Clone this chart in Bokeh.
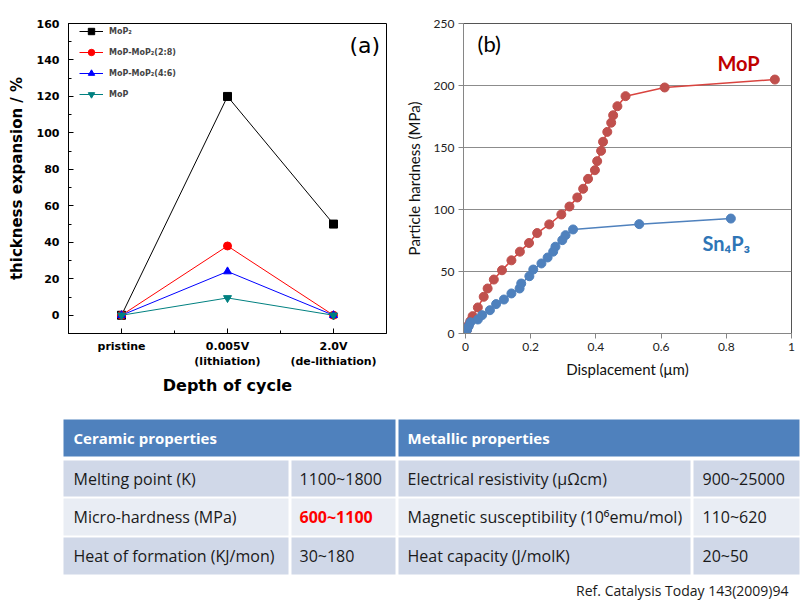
from bokeh.plotting import figure
from bokeh.models import Range1d, Legend, LegendItem, FixedTicker, Label
from bokeh.layouts import column, row
from bokeh.embed import file_html
from bokeh.resources import INLINE
from bokeh.core.properties import value

# ---------------- data: panel (a) ----------------
cycle_pos = [0, 1, 2]
cycle_labels = ["pristine", "0.005V\n(lithiation)", "2.0V\n(de-lithiation)"]
mop2_exp = [0, 120, 50]
mix28_exp = [0, 38, 0]
mix46_exp = [0, 24, 0]
mop_exp = [0, 9.5, 0]
series_names = ["MoP\u2082", "MoP-MoP\u2082(2:8)", "MoP-MoP\u2082(4:6)", "MoP"]

# ---------------- data: panel (b) ----------------
mop_disp = [0, 0.005, 0.01, 0.015, 0.022, 0.038, 0.056, 0.068, 0.087, 0.112, 0.141, 0.167,
            0.195, 0.22, 0.257, 0.294, 0.319, 0.343, 0.361, 0.376, 0.397, 0.404, 0.416,
            0.422, 0.435, 0.447, 0.453, 0.466, 0.491, 0.611, 0.949]
mop_hard = [0, 3, 7, 10, 14, 21, 29.6, 36.3, 43.5, 51, 59, 66,
            73, 81, 88, 96, 102.4, 109.7, 116.7, 124.7, 131.7, 139, 147.3,
            154.6, 162.6, 170, 176, 183.3, 191.4, 198.4, 204.8]
sn_disp = [0, 0.005, 0.01, 0.015, 0.038, 0.051, 0.075, 0.094, 0.118, 0.141, 0.166, 0.171,
           0.196, 0.208, 0.233, 0.252, 0.269, 0.276, 0.297, 0.307, 0.330, 0.533, 0.814]
sn_hard = [0, 3, 6, 9, 11.3, 14.8, 18.8, 23.7, 27.4, 32.3, 36.3, 40.3,
           46.2, 51.6, 56.5, 61.3, 66, 70, 75.3, 79.3, 83.9, 88.2, 92.7]

# ---------------- data: table ----------------
header_titles = ["Ceramic properties", "Metallic properties"]
ceramic_props = ["Melting point (K)", "Micro-hardness (MPa)", "Heat of formation (KJ/mon)"]
ceramic_vals = ["1100~1800", "600~1100", "30~180"]
metallic_props = ["Electrical resistivity (\u03bc\u03a9cm)",
                  "Magnetic susceptibility (10\u2076emu/mol)",
                  "Heat capacity (J/molK)"]
metallic_vals = ["900~25000", "110~620", "20~50"]
reference = "Ref. Catalysis Today 143(2009)94"

# ======================= panel (a) =======================
FA = "DejaVu Sans"
pa = figure(width=400, height=400, x_range=Range1d(-0.5, 2.5), y_range=Range1d(-10, 160),
            output_backend="svg", toolbar_location=None,
            min_border_left=68, min_border_right=14, min_border_top=23, min_border_bottom=64)
pa.xgrid.visible = False
pa.ygrid.visible = False
pa.outline_line_color = "black"
pa.outline_line_alpha = 1.0
pa.background_fill_color = "white"

pa.xaxis.ticker = FixedTicker(ticks=cycle_pos, minor_ticks=[0.5, 1.5])
pa.xaxis.major_label_overrides = {p: l for p, l in zip(cycle_pos, cycle_labels)}
pa.yaxis.ticker = FixedTicker(ticks=list(range(0, 161, 20)), minor_ticks=list(range(-10, 161, 10)))
for ax in (pa.xaxis[0], pa.yaxis[0]):
    ax.axis_line_color = "black"
    ax.major_tick_line_color = "black"
    ax.minor_tick_line_color = "black"
    ax.major_tick_in = 5
    ax.major_tick_out = 0
    ax.minor_tick_in = 3
    ax.minor_tick_out = 0
    ax.major_label_text_font = FA
    ax.major_label_text_font_style = "bold"
    ax.major_label_text_font_size = "11px"
    ax.major_label_text_color = "black"
    ax.axis_label_text_font = FA
    ax.axis_label_text_font_style = "bold"
    ax.axis_label_text_color = "black"
pa.xaxis.major_label_standoff = 6
pa.yaxis.major_label_standoff = 9
pa.xaxis.axis_label = "Depth of cycle"
pa.xaxis.axis_label_text_font_size = "16px"
pa.xaxis.axis_label_standoff = 5
pa.yaxis.axis_label = "thickness expansion / %"
pa.yaxis.axis_label_text_font_size = "15px"
pa.yaxis.axis_label_standoff = 8

series = [mop2_exp, mix28_exp, mix46_exp, mop_exp]
colors = ["black", "#ff0000", "#0000ff", "#008080"]
markers = ["square", "circle", "triangle", "inverted_triangle"]
items = []
for name, ys, c, m in zip(series_names, series, colors, markers):
    ln = pa.line(cycle_pos, ys, line_color=c, line_width=1)
    sc = pa.scatter(cycle_pos, ys, marker=m, size=8, fill_color=c, line_color=c)
    items.append(LegendItem(label=name, renderers=[ln, sc]))
leg = Legend(items=items, location=(8, 228))
leg.label_text_font = FA
leg.label_text_font_style = "bold"
leg.label_text_font_size = "8px"
leg.glyph_width = 24
leg.glyph_height = 16
leg.label_height = 16
leg.spacing = 5
leg.padding = 3
leg.margin = 0
leg.label_standoff = 6
leg.border_line_alpha = 0
leg.background_fill_alpha = 0
pa.add_layout(leg)
pa.add_layout(Label(x=2.15, y=148, text="(a)", text_font=FA, text_font_size="22px",
                    text_baseline="middle", text_color="black"))

# ======================= panel (b) =======================
FB = "Lato"
pb = figure(width=401, height=400, x_range=Range1d(-0.006, 1.0), y_range=Range1d(0, 250),
            output_backend="svg", toolbar_location=None,
            min_border_left=63, min_border_right=10, min_border_top=23, min_border_bottom=67)
pb.xgrid.visible = False
pb.ygrid.grid_line_color = "#8c8c8c"
pb.ygrid.grid_line_width = 1
pb.outline_line_color = "#555555"
pb.outline_line_alpha = 1.0
pb.xaxis.ticker = FixedTicker(ticks=[0, 0.2, 0.4, 0.6, 0.8, 1.0])
pb.xaxis.major_label_overrides = {0: "0", 0.2: "0.2", 0.4: "0.4", 0.6: "0.6", 0.8: "0.8", 1.0: "1"}
pb.yaxis.ticker = FixedTicker(ticks=[0, 50, 100, 150, 200, 250])
for ax in (pb.xaxis[0], pb.yaxis[0]):
    ax.axis_line_color = "#868686"
    ax.major_tick_line_color = "#868686"
    ax.major_tick_in = 0
    ax.major_tick_out = 5
    ax.minor_tick_line_color = None
    ax.major_label_text_font = FB
    ax.major_label_text_font_size = "12px"
    ax.major_label_text_color = "#222222"
    ax.major_label_standoff = 4
    ax.axis_label_text_font = FB
    ax.axis_label_text_font_style = "normal"
    ax.axis_label_text_font_size = "15px"
    ax.axis_label_text_color = "#111111"
pb.xaxis.axis_label = "Displacement (\u03bcm)"
pb.xaxis.axis_label_standoff = 6
pb.yaxis.axis_label = "Particle hardness (MPa)"
pb.yaxis.axis_label_standoff = 8

red = "#C0504D"
blue = "#4F81BD"
pb.line(mop_disp, mop_hard, line_color="#D9443F", line_width=1.5)
pb.scatter(mop_disp, mop_hard, size=9, fill_color=red, line_color=red)
pb.line(sn_disp, sn_hard, line_color=blue, line_width=1.5)
pb.scatter(sn_disp, sn_hard, size=9, fill_color=blue, line_color=blue)
pb.add_layout(Label(x=0.037, y=234, text="(b)", text_font=FB, text_font_size="22px",
                    text_baseline="middle", text_color="black"))
pb.add_layout(Label(x=0.773, y=218.5, text="MoP", text_font=FB, text_font_size="20px",
                    text_font_style="bold", text_baseline="middle", text_color="#C00000"))
pb.add_layout(Label(x=0.727, y=72.6, text="Sn\u2084P\u2083", text_font=FB, text_font_size="20px",
                    text_font_style="bold", text_baseline="middle", text_color="#2E75B6"))

# ======================= table =======================
pt = figure(width=801, height=210, x_range=Range1d(0, 801), y_range=Range1d(610, 400),
            output_backend="svg", toolbar_location=None, min_border=0,
            x_axis_location=None, y_axis_location=None)
pt.grid.visible = False
pt.outline_line_color = None

col_left = [63, 291, 398, 693]
col_right = [288, 395, 690, 799]
head_top, head_bot = 419, 456
row_top = [460, 498, 537]
row_bot = [496, 535, 574]
row_fill = ["#D0D8E8", "#E9EDF4", "#D0D8E8"]
head_fill = "#4F81BD"
FT = "Open Sans"

pt.quad(left=[col_left[0], col_left[2]], right=[col_right[1], col_right[3]],
        top=[head_top, head_top], bottom=[head_bot, head_bot],
        fill_color=head_fill, line_color=None)
qL, qR, qT, qB, qC = [], [], [], [], []
for r in range(3):
    for c in range(4):
        qL.append(col_left[c]); qR.append(col_right[c])
        qT.append(row_top[r]); qB.append(row_bot[r]); qC.append(row_fill[r])
pt.quad(left=qL, right=qR, top=qT, bottom=qB, fill_color=qC, line_color=None)

hy = (head_top + head_bot) / 2
pt.text(x=[col_left[0] + 10, col_left[2] + 9], y=[hy, hy], text=header_titles,
        text_font=value(FT), text_font_style="bold", text_font_size="15px",
        text_color="white", text_baseline="middle")
ry = [(t + b) / 2 for t, b in zip(row_top, row_bot)]
pt.text(x=[col_left[0] + 10] * 3, y=ry, text=ceramic_props, text_font=value(FT),
        text_font_size="16px", text_color="#1a1a1a", text_baseline="middle")
val_colors = ["#1a1a1a", "#ff0000", "#1a1a1a"]
val_styles = ["normal", "bold", "normal"]
pt.text(x=[col_left[1] + 8] * 3, y=ry, text=ceramic_vals, text_font=value(FT),
        text_font_size="16px", text_color=val_colors, text_font_style=val_styles,
        text_baseline="middle")
pt.text(x=[col_left[2] + 9] * 3, y=ry, text=metallic_props, text_font=value(FT),
        text_font_size="16px", text_color="#1a1a1a", text_baseline="middle")
pt.text(x=[col_left[3] + 9] * 3, y=ry, text=metallic_vals, text_font=value(FT),
        text_font_size="16px", text_color="#1a1a1a", text_baseline="middle")
pt.text(x=[788], y=[590], text=[reference], text_font=value(FT), text_font_size="14px",
        text_color="#1a1a1a", text_baseline="middle", text_align="right")

layout = column(row(pa, pb), pt)
open("out.html", "w").write(file_html(layout, INLINE))
